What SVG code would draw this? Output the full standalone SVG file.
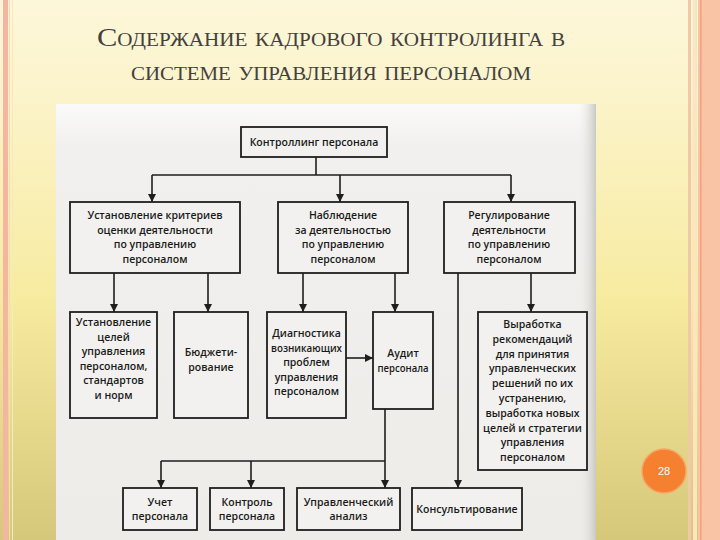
<svg xmlns="http://www.w3.org/2000/svg" width="720" height="540" viewBox="0 0 720 540">
<defs>
<linearGradient id="bg" x1="0" y1="0" x2="0" y2="1">
<stop offset="0" stop-color="#FDF7DA"/>
<stop offset="0.2" stop-color="#FBF3C8"/>
<stop offset="0.55" stop-color="#F7EBA0"/>
<stop offset="1" stop-color="#D6C87A"/>
</linearGradient>
<linearGradient id="scanEdge" x1="0" y1="0" x2="1" y2="0">
<stop offset="0" stop-color="#F1F0EE" stop-opacity="0"/>
<stop offset="1" stop-color="#C9C8C4"/>
</linearGradient>
<linearGradient id="scanTop" x1="0" y1="0" x2="0" y2="1">
<stop offset="0" stop-color="#FAFAF8"/>
<stop offset="0.1" stop-color="#F1F0EE"/>
<stop offset="1" stop-color="#EDECE9"/>
</linearGradient>
<marker id="ah" viewBox="0 0 10 10" refX="10" refY="5" markerWidth="5" markerHeight="6" markerUnits="strokeWidth" orient="auto">
<path d="M0,0 L10,5 L0,10 z" fill="#1E1E1E"/>
</marker>
<style>
.title{font-family:"Liberation Serif","DejaVu Serif",serif;font-variant:small-caps;fill:#454040;font-size:26px}
.box{fill:#F2F1EF;stroke:#1E1E1E;stroke-width:1.8}
.t{font-family:"Open Sans","Noto Sans",sans-serif;font-weight:600;font-size:10.5px;fill:#1A1A1A;text-anchor:middle}
.c{fill:none;stroke:#1E1E1E;stroke-width:1.6}
.ca{fill:none;stroke:#1E1E1E;stroke-width:1.6;marker-end:url(#ah)}
</style>
</defs>

<!-- slide background -->
<rect x="0" y="0" width="720" height="540" fill="url(#bg)"/>
<rect x="3" y="0" width="5" height="540" fill="#F6B5A0"/>
<rect x="9" y="0" width="1" height="540" fill="#F9D9B8"/>
<rect x="12" y="0" width="1" height="540" fill="#FBE6C0"/>
<rect x="688" y="0" width="3" height="540" fill="#EFC9A8"/>
<rect x="693" y="0" width="4" height="540" fill="#FBE3C4"/>
<rect x="698" y="0" width="22" height="540" fill="#F9C3A6"/>
<rect x="700" y="0" width="1.5" height="540" fill="#F2A27C"/>

<!-- title -->
<text class="title" x="331" y="46" text-anchor="middle" textLength="468" lengthAdjust="spacingAndGlyphs">Содержание кадрового контролинга в</text>
<text class="title" x="331" y="80" text-anchor="middle" textLength="400" lengthAdjust="spacingAndGlyphs">системе управления персоналом</text>

<!-- scanned area -->
<rect x="56" y="104" width="540" height="436" fill="url(#scanTop)"/>
<rect x="578" y="104" width="18" height="436" fill="url(#scanEdge)"/>

<!-- connectors -->
<g id="connectors">
<path class="c" d="M316,157 V175 M152,175 H511"/>
<path class="ca" d="M152,175 V202"/>
<path class="ca" d="M340,175 V202"/>
<path class="ca" d="M511,175 V202"/>
<path class="ca" d="M114,273 V312"/>
<path class="ca" d="M208,273 V312"/>
<path class="ca" d="M303,273 V312"/>
<path class="ca" d="M395,273 V312"/>
<path class="ca" d="M531,273 V312"/>
<path class="ca" d="M458,273 V488"/>
<path class="ca" d="M346,358 H373"/>
<path class="c" d="M161,461 H385"/>
<path class="ca" d="M385,409 V488"/>
<path class="ca" d="M161,461 V488"/>
<path class="ca" d="M251,461 V488"/>
</g>

<!-- nodes -->
<g id="n-top">
<rect class="box" x="241" y="127" width="146" height="30"/>
<text class="t" x="314" y="146">Контроллинг персонала</text>
</g>
<g id="n-criteria">
<rect class="box" x="70" y="202" width="170" height="71"/>
<text class="t" x="155" y="219">Установление критериев</text>
<text class="t" x="155" y="233.5">оценки деятельности</text>
<text class="t" x="155" y="248">по управлению</text>
<text class="t" x="155" y="262.5">персоналом</text>
</g>
<g id="n-observe">
<rect class="box" x="278" y="202" width="130" height="71"/>
<text class="t" x="343" y="219">Наблюдение</text>
<text class="t" x="343" y="233.5">за деятельностью</text>
<text class="t" x="343" y="248">по управлению</text>
<text class="t" x="343" y="262.5">персоналом</text>
</g>
<g id="n-regulate">
<rect class="box" x="444" y="202" width="131" height="71"/>
<text class="t" x="509" y="219">Регулирование</text>
<text class="t" x="509" y="233.5">деятельности</text>
<text class="t" x="509" y="248">по управлению</text>
<text class="t" x="509" y="262.5">персоналом</text>
</g>
<g id="n-goals">
<rect class="box" x="70" y="312" width="87" height="106"/>
<text class="t" x="113.5" y="326">Установление</text>
<text class="t" x="113.5" y="340.5">целей</text>
<text class="t" x="113.5" y="355">управления</text>
<text class="t" x="113.5" y="369.5">персоналом,</text>
<text class="t" x="113.5" y="384">стандартов</text>
<text class="t" x="113.5" y="398.5">и норм</text>
</g>
<g id="n-budget">
<rect class="box" x="174" y="312" width="74" height="106"/>
<text class="t" x="211" y="356">Бюджети-</text>
<text class="t" x="211" y="371">рование</text>
</g>
<g id="n-diag">
<rect class="box" x="267" y="312" width="79" height="106"/>
<text class="t" x="306.5" y="337">Диагностика</text>
<text class="t" x="306.5" y="351.5" textLength="71" lengthAdjust="spacingAndGlyphs">возникающих</text>
<text class="t" x="306.5" y="366">проблем</text>
<text class="t" x="306.5" y="380.5">управления</text>
<text class="t" x="306.5" y="395">персоналом</text>
</g>
<g id="n-audit">
<rect class="box" x="373" y="312" width="60" height="97"/>
<text class="t" x="403" y="356.5">Аудит</text>
<text class="t" x="403" y="371.5" textLength="51" lengthAdjust="spacingAndGlyphs">персонала</text>
</g>
<g id="n-recommend">
<rect class="box" x="478" y="312" width="109" height="158"/>
<text class="t" x="532.5" y="328">Выработка</text>
<text class="t" x="532.5" y="342.8">рекомендаций</text>
<text class="t" x="532.5" y="357.6">для принятия</text>
<text class="t" x="532.5" y="372.4">управленческих</text>
<text class="t" x="532.5" y="387.2">решений по их</text>
<text class="t" x="532.5" y="402">устранению,</text>
<text class="t" x="532.5" y="416.8">выработка новых</text>
<text class="t" x="532.5" y="431.6">целей и стратегии</text>
<text class="t" x="532.5" y="446.4">управления</text>
<text class="t" x="532.5" y="461.2">персоналом</text>
</g>
<g id="n-account">
<rect class="box" x="123" y="488" width="74" height="42"/>
<text class="t" x="160" y="505.5">Учет</text>
<text class="t" x="160" y="520">персонала</text>
</g>
<g id="n-control">
<rect class="box" x="210" y="488" width="74" height="42"/>
<text class="t" x="247" y="505.5">Контроль</text>
<text class="t" x="247" y="520">персонала</text>
</g>
<g id="n-analysis">
<rect class="box" x="297" y="488" width="103" height="42"/>
<text class="t" x="348.5" y="505.5">Управленческий</text>
<text class="t" x="348.5" y="520">анализ</text>
</g>
<g id="n-consult">
<rect class="box" x="412" y="488" width="110" height="42"/>
<text class="t" x="467" y="512.5">Консультирование</text>
</g>

<!-- page number -->
<g id="page-number">
<circle cx="664" cy="471" r="22" fill="#F5802F" stroke="#F7A565" stroke-width="1.5"/>
<text x="664" y="475" text-anchor="middle" font-family="Liberation Sans, Arial, sans-serif" font-size="11" fill="#FFFFFF">28</text>
</g>
</svg>
